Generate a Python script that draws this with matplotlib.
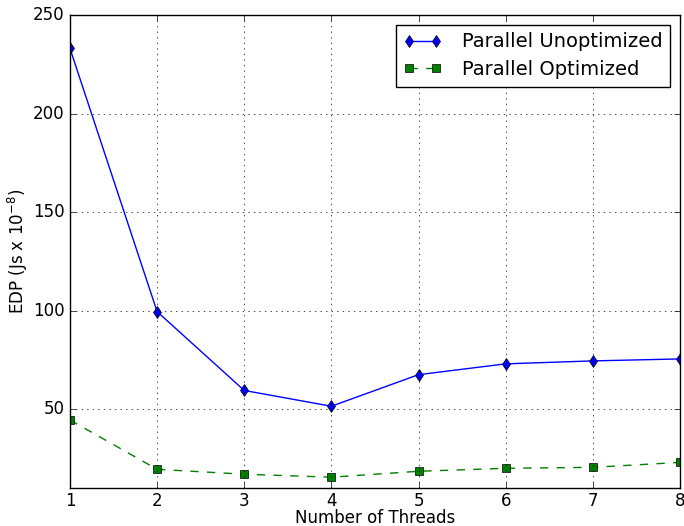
import matplotlib
matplotlib.use("Agg")
import matplotlib.pyplot as plt

threads = [1, 2, 3, 4, 5, 6, 7, 8]
unoptimized = [233, 99.5, 59.5, 51.5, 67.5, 73, 74.5, 75.5]
optimized = [44.5, 19.5, 17, 15.5, 18.5, 20, 20.5, 23]

plt.style.use("classic")
plt.rcParams["mathtext.fontset"] = "dejavusans"
fig = plt.figure(figsize=(6.84, 5.26), dpi=100, facecolor="white")
ax = fig.add_axes([0.1023, 0.0722, 0.8917, 0.8993])

ax.plot(threads, unoptimized, "b-d", label="Parallel Unoptimized")
ax.plot(threads, optimized, "g--s", label="Parallel Optimized")

ax.set_xlim(1, 8)
ax.set_ylim(10, 250)
ax.set_yticks([50, 100, 150, 200, 250])
ax.grid(True)
ax.tick_params(labelsize=12)
ax.tick_params(axis="x", pad=3)
ax.set_xlabel("Number of Threads", fontsize=12, labelpad=-1)
ax.set_ylabel(r"EDP (Js x $10^{-8}$)", fontsize=12, labelpad=2)
ax.legend(loc="upper right", numpoints=2, fontsize=14, handlelength=2.0,
          handletextpad=1.0, labelspacing=0.45)

fig.savefig("out.png", dpi=100, facecolor="white")
